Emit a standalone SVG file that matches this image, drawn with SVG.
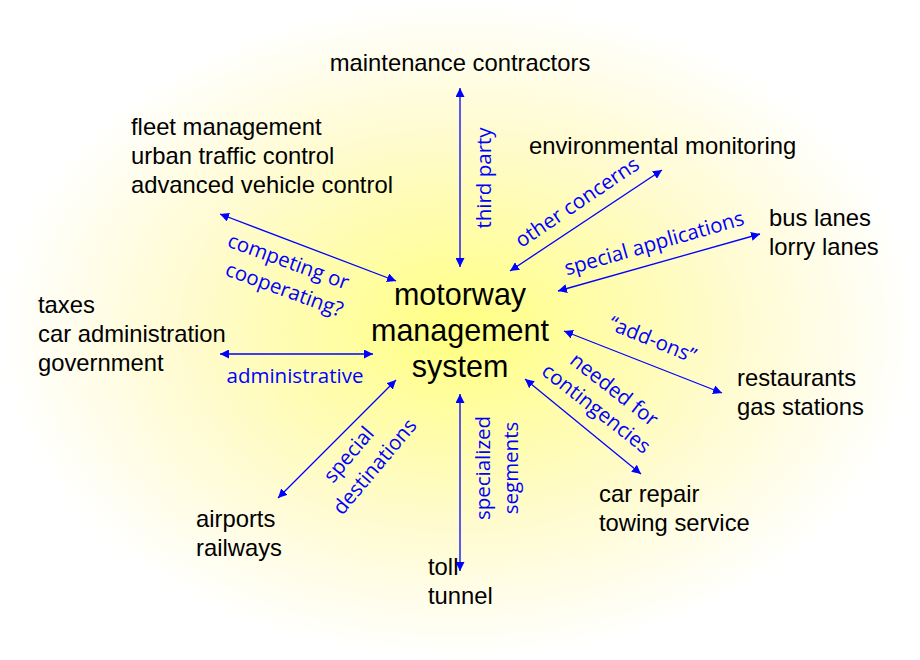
<svg xmlns="http://www.w3.org/2000/svg" width="920" height="660" viewBox="0 0 920 660">
<style>
.n{font-family:"Liberation Sans",Arial,sans-serif;font-size:23.8px;fill:#000}
.c{font-family:"Liberation Sans",Arial,sans-serif;font-size:30.5px;fill:#000;text-anchor:middle}
.l{font-family:"Open Sans","DejaVu Sans",sans-serif;font-size:20.5px;fill:#0000ff;text-anchor:middle}
.a{stroke:#0000ff;stroke-width:1.3;fill:none;marker-start:url(#h);marker-end:url(#h)}
</style>
<defs>
<radialGradient id="g" cx="460" cy="330" r="460" gradientUnits="userSpaceOnUse" gradientTransform="translate(0 330) scale(1 0.72) translate(0 -330)">
<stop offset="0" stop-color="#ffff80"/><stop offset="0.6" stop-color="#fffbd0"/><stop offset="1" stop-color="#ffffff"/>
</radialGradient>
<marker id="h" viewBox="0 0 10 10" refX="10" refY="5" markerWidth="9" markerHeight="9" markerUnits="userSpaceOnUse" orient="auto-start-reverse"><path d="M0,0L10,5L0,10z" fill="#0000ff"/></marker>
</defs>
<rect width="920" height="660" fill="#fff"/>
<ellipse cx="460" cy="330" rx="460" ry="330" fill="url(#g)"/>
<g id="connectors">
<line class="a" x1="460" y1="88" x2="460" y2="267"/>
<line class="a" x1="662" y1="170" x2="510" y2="271"/>
<line class="a" x1="760" y1="234" x2="558" y2="291"/>
<line class="a" x1="722" y1="393" x2="564" y2="331"/>
<line class="a" x1="641" y1="474" x2="525" y2="379"/>
<line class="a" x1="460" y1="571" x2="460" y2="394"/>
<line class="a" x1="278" y1="498" x2="396" y2="380"/>
<line class="a" x1="220" y1="354" x2="373" y2="354"/>
<line class="a" x1="220" y1="214" x2="396" y2="281"/>
<text class="l" transform="translate(491,178) rotate(-90)">third party</text>
<text class="l" transform="translate(581,208) rotate(-34)">other concerns</text>
<text class="l" transform="translate(656,250) rotate(-16)">special applications</text>
<text class="l" transform="translate(650,346) rotate(22)">“add-ons”</text>
<text class="l" transform="translate(610,395) rotate(38)">needed for</text>
<text class="l" transform="translate(592,414) rotate(38)">contingencies</text>
<text class="l" transform="translate(490,468) rotate(-90)">specialized</text>
<text class="l" transform="translate(518,468) rotate(-90)">segments</text>
<text class="l" transform="translate(354,459) rotate(-50)">special</text>
<text class="l" transform="translate(380,471) rotate(-50)">destinations</text>
<text class="l" transform="translate(286,268) rotate(20)">competing or</text>
<text class="l" transform="translate(282,296) rotate(20)">cooperating?</text>
<text class="l" x="295" y="383">administrative</text>
</g>
<g id="center"><text class="c" x="460" y="305">motorway</text><text class="c" x="460" y="341">management</text><text class="c" x="460" y="377">system</text></g>
<g id="maintenance"><text class="n" x="460" y="71" text-anchor="middle">maintenance contractors</text></g>
<g id="fleet"><text class="n" x="131" y="135">fleet management</text><text class="n" x="131" y="164">urban traffic control</text><text class="n" x="131" y="193">advanced vehicle control</text></g>
<g id="env"><text class="n" x="529" y="154">environmental monitoring</text></g>
<g id="bus"><text class="n" x="769" y="226">bus lanes</text><text class="n" x="769" y="255">lorry lanes</text></g>
<g id="taxes"><text class="n" x="38" y="313">taxes</text><text class="n" x="38" y="342">car administration</text><text class="n" x="38" y="371">government</text></g>
<g id="rest"><text class="n" x="737" y="386">restaurants</text><text class="n" x="737" y="415">gas stations</text></g>
<g id="repair"><text class="n" x="599" y="502">car repair</text><text class="n" x="599" y="531">towing service</text></g>
<g id="airports"><text class="n" x="196" y="527">airports</text><text class="n" x="196" y="556">railways</text></g>
<g id="toll"><text class="n" x="428" y="575">toll</text><text class="n" x="428" y="604">tunnel</text></g>
</svg>
